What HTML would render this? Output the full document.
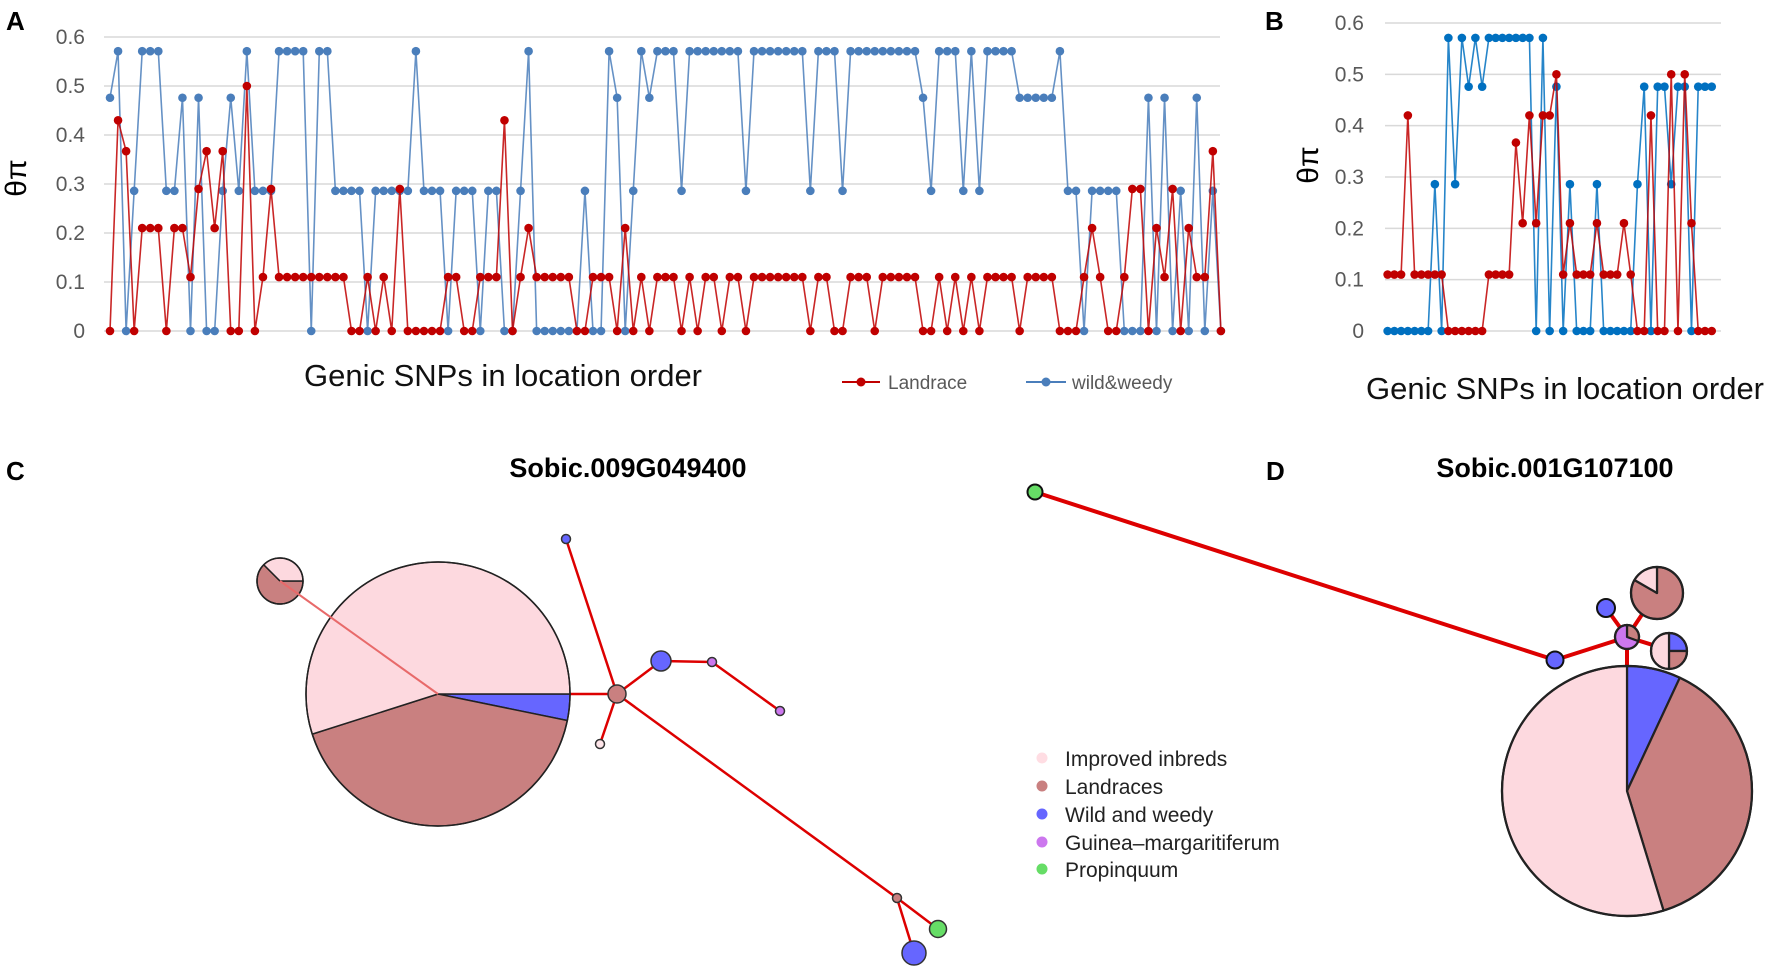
<!DOCTYPE html>
<html><head><meta charset="utf-8"><style>
html,body{margin:0;padding:0;background:#fff}
svg{display:block}
text{font-family:"Liberation Sans",sans-serif}
</style></head><body>
<svg id="s" width="1772" height="976" xmlns="http://www.w3.org/2000/svg">
<rect width="1772" height="976" fill="#fff"/>
<g id="A"></g><g id="B"></g>
<text x="6" y="30" font-size="26" font-weight="bold">A</text>
<text x="1265" y="30" font-size="26" font-weight="bold">B</text>
<text x="6" y="480" font-size="26" font-weight="bold">C</text>
<text x="1266" y="480" font-size="26" font-weight="bold">D</text>
<text x="26" y="178" font-size="30" text-anchor="middle" transform="rotate(-90 26 178)">θπ</text>
<text x="503" y="386" font-size="31" text-anchor="middle" fill="#111">Genic SNPs in location order</text>
<line x1="842" y1="382" x2="880" y2="382" stroke="#c00000" stroke-width="2"/><circle cx="861" cy="382" r="4.5" fill="#c00000"/>
<text x="888" y="389" font-size="19" fill="#595959">Landrace</text>
<line x1="1026" y1="382" x2="1066" y2="382" stroke="#4a7ebb" stroke-width="2"/><circle cx="1046" cy="382" r="4.5" fill="#4a7ebb"/>
<text x="1072" y="389" font-size="19" fill="#595959">wild&amp;weedy</text>
<text x="1318" y="165" font-size="30" text-anchor="middle" transform="rotate(-90 1318 165)">θπ</text>
<text x="1565" y="399" font-size="31" text-anchor="middle" fill="#111">Genic SNPs in location order</text>

<text x="628" y="477" font-size="27" font-weight="bold" text-anchor="middle">Sobic.009G049400</text>
<g stroke="#dd0000" stroke-width="2.5" fill="none">
<line x1="438" y1="694" x2="617" y2="694"/>
<line x1="617" y1="694" x2="566" y2="539"/>
<line x1="617" y1="694" x2="600" y2="744"/>
<line x1="617" y1="694" x2="661" y2="661"/>
<line x1="661" y1="661" x2="712" y2="662"/>
<line x1="712" y1="662" x2="780" y2="711"/>
<line x1="617" y1="694" x2="897" y2="898"/>
<line x1="897" y1="898" x2="938" y2="929"/>
<line x1="897" y1="898" x2="914" y2="953"/>
</g>
<g id="C"></g>
<line x1="280" y1="581" x2="438" y2="694" stroke="#e86a6a" stroke-width="2"/>
<g stroke="#333" stroke-width="1.5">
<circle cx="566" cy="539" r="4.5" fill="#6666ff"/>
<circle cx="600" cy="744" r="4.5" fill="#ffe6ea"/>
<circle cx="617" cy="694" r="9" fill="#c98080"/>
<circle cx="661" cy="661" r="10" fill="#6666ff"/>
<circle cx="712" cy="662" r="4.5" fill="#cc77ee"/>
<circle cx="780" cy="711" r="4.5" fill="#cc77ee"/>
<circle cx="897" cy="898" r="4.5" fill="#c98080"/>
<circle cx="938" cy="929" r="8.5" fill="#66dd66"/>
<circle cx="914" cy="953" r="12" fill="#6666ff"/>
</g>

<text x="1555" y="477" font-size="27" font-weight="bold" text-anchor="middle">Sobic.001G107100</text>
<g stroke="#dd0000" stroke-width="4" fill="none">
<line x1="1035" y1="492" x2="1555" y2="660"/>
<line x1="1555" y1="660" x2="1627" y2="637"/>
<line x1="1627" y1="637" x2="1606" y2="608"/>
<line x1="1627" y1="637" x2="1657" y2="592"/>
<line x1="1627" y1="637" x2="1669" y2="650"/>
<line x1="1627" y1="637" x2="1627" y2="667"/>
</g>
<g id="D"></g>
<g stroke="#111" stroke-width="2">
<circle cx="1035" cy="492" r="7.5" fill="#66dd66"/>
<circle cx="1555" cy="660" r="8.5" fill="#6666ff"/>
<circle cx="1606" cy="608" r="9" fill="#6666ff"/>
</g>
<g font-size="21" fill="#222">
<circle cx="1042" cy="758" r="5.5" fill="#ffdde3"/><text x="1065" y="766">Improved inbreds</text>
<circle cx="1042" cy="786" r="5.5" fill="#c98080"/><text x="1065" y="794">Landraces</text>
<circle cx="1042" cy="814" r="5.5" fill="#6666ff"/><text x="1065" y="822">Wild and weedy</text>
<circle cx="1042" cy="842" r="5.5" fill="#cc77ee"/><text x="1065" y="850">Guinea–margaritiferum</text>
<circle cx="1042" cy="869" r="5.5" fill="#66dd66"/><text x="1065" y="877">Propinquum</text>
</g>
</svg>
<script>
const NS="http://www.w3.org/2000/svg";
function el(p,t,a){const e=document.createElementNS(NS,t);for(const k in a)e.setAttribute(k,a[k]);p.appendChild(e);return e;}
function fill(list,x0,step,n){const out=[];for(let i=0;i<n;i++){const x=x0+step*i;let best=null,bd=1e9;for(const [px,v] of list){const d=Math.abs(px-x);if(d<bd){bd=d;best=v;}}out.push(bd<=step*0.55?best:0);}return out;}
function chart(g,o){
 for(let k=0;k<=6;k++){const y=o.y0-(o.y0-o.y6)*k/6;
  el(g,'line',{x1:o.gx1,x2:o.gx2,y1:y,y2:y,stroke:'#d9d9d9','stroke-width':1.5});
  const t=el(g,'text',{x:o.tx,y:y+7,'font-size':o.fs,fill:'#595959','text-anchor':'end'});t.textContent=k==0?'0':(k/10).toFixed(1);}
 for(const s of o.series){const vals=fill(s.pts,o.x0,o.step,o.n);
  const pts=vals.map((v,i)=>[o.x0+o.step*i,o.y0-(o.y0-o.y6)*v/0.6]);
  el(g,'polyline',{points:pts.map(p=>p.join(',')).join(' '),fill:'none',stroke:s.c,'stroke-width':1.6,'stroke-opacity':0.85});
  for(const p of pts)el(g,'circle',{cx:p[0],cy:p[1],r:4.3,fill:s.c});}
}
function R(a,b,step,v){const r=[];for(let x=a;x<=b+0.1;x+=step)r.push([x,v]);return r;}
const S=8.05;
const blueA=[[110,.476],[119,.571],[126,0],[134,.286],[142,.571],[151,.571],[160,.571],[166,.286],[175,.286],[184,.476],[191,0],[200,.476],[209,0],[216,0],[224,.286],[232,.476],[240,.286],[248,.571],[256,.286],[264,.286],[272,.286],[281,.571],[289,.571],[297,.571],[305,.571],[314,0],[321,.571],[330,.571],[338,.286],[346,.286],[354,.286],[362,.286],[369,0],[379,.286],[387,.286],[394,.286],[402,.286],[411,.286],[420,.571],[427,.286],[435,.286],[443,.286],[452,0],[460,.286],[468,.286],[477,0],[484,0],[492,.286],[500,.286],[508,0],[517,.286],[525,.571],[533,0],[541,0],[549,0],[557,0],[565,0],[573,0],[582,.286],[590,0],[598,0],[606,.571],[614,.476],[622,0],[630,.286],[637,.571],[646,.476],[654,.571],[662,.571],[671,.571],[678,.286],
 ...R(686,735,8.1,.571),[743,.286],...R(751,800,8.1,.571),[808,.286],[816,.571],[825,.571],[833,.571],[841,.286],...R(849,915,8.2,.571),[923,.476],[931,.286],[938,.571],[946,.571],[955,.571],[963,.286],[972,.571],[979,.286],...R(987,1012,8.2,.571),...R(1019,1053,8.3,.476),[1060,.571],[1068,.286],[1077,.286],[1085,0],[1092,.286],[1100,.286],[1108,.286],[1117,.286],[1125,0],[1133,0],[1141,0],[1149,.476],[1157,0],[1166,.476],[1174,0],[1182,.286],[1190,0],[1198,.476],[1207,0],[1215,.286]];
const redA=[[110,0],[119,.43],[126,.367],[134,0],[142,.21],[151,.21],[160,.21],[166,0],[175,.21],[184,.21],[191,.11],[200,.29],[209,.367],[216,.21],[224,.367],[232,0],[240,0],[248,.5],[256,0],[264,.11],[272,.29],...R(281,346,8.1,.11),[354,0],[362,0],[369,.11],[377,0],[387,.11],[394,0],[402,.29],[411,0],[420,0],[427,0],[435,0],[443,0],[452,.11],[460,.11],[468,0],[477,.11],[484,.11],[492,.11],[500,.11],[508,.43],[517,.11],[525,.21],...R(533,573,8.1,.11),[582,0],[590,.11],[598,.11],[606,.11],[614,0],[622,.21],[630,0],[637,.11],[646,0],[654,.11],[662,.11],[671,.11],[678,0],[687,.11],[695,0],[703,.11],[712,.11],[719,0],[727,.11],[735,.11],[743,0],...R(751,800,8.1,.11),[808,0],[816,.11],[825,.11],[833,0],[841,0],[849,.11],[857,.11],[866,.11],[874,0],...R(882,915,8.2,.11),[923,0],[931,0],[938,.11],[946,0],[954,.11],[963,0],[972,.11],[979,0],...R(987,1012,8.2,.11),[1019,0],...R(1028,1060,8.1,.11),[1068,0],[1077,0],[1085,.11],[1093,.21],[1100,.11],[1108,0],[1117,0],[1125,.11],[1133,.29],[1141,.29],[1149,0],[1158,.21],[1166,.11],[1174,.29],[1182,0],[1190,.21],[1198,.11],[1207,.11],[1215,.367]];
chart(document.getElementById('A'),{y0:331,y6:37,gx1:104,gx2:1220,tx:85,fs:21,x0:110,step:S,n:139,series:[{c:'#4a7ebb',pts:blueA},{c:'#c00000',pts:redA}]});
const bB=[...[435,455,478,498,518,538,560].map(z=>[z,0]),[575,.286],[598,0],[617,.571],[636,.286],[657,.571],[676,.476],[696,.571],[716,.476],...[735,755,775,795,815,835,855].map(z=>[z,.571]),[873,0],[895,.571],[913,0],[933,.476],[953,0],[973,.286],[993,0],[1013,0],[1033,0],[1050,.286],[1070,0],[1090,0],[1110,0],[1130,0],[1150,0],[1170,.286],[1190,.476],[1210,0],[1230,.476],[1250,.476],[1270,.286],[1290,.476],[1310,.476],[1330,0],[1350,.476],[1370,.476],[1390,.476]];
const rB=[[435,.11],[455,.11],[475,.11],[498,.42],[518,.11],[538,.11],[560,.11],[580,.11],[598,.11],[617,0],[636,0],[657,0],[676,0],[696,0],[716,0],[735,.11],[755,.11],[775,.11],[795,.11],[815,.367],[835,.21],[855,.42],[873,.21],[893,.42],[913,.42],[933,.5],[953,.11],[973,.21],[993,.11],[1013,.11],[1033,.11],[1050,.21],[1070,.11],[1090,.11],[1110,.11],[1130,.21],[1150,.11],[1170,0],[1190,0],[1210,.42],[1230,0],[1250,0],[1270,.5],[1290,0],[1310,.5],[1330,.21],[1350,0],[1370,0],[1390,0]];
const tz=z=>1240+z/2.947;
chart(document.getElementById('B'),{y0:331,y6:23,gx1:1385,gx2:1721,tx:1364,fs:21,x0:tz(435),step:19.9/2.947,n:49,series:[{c:'#0070c0',pts:bB.map(([z,v])=>[tz(z),v])},{c:'#c00000',pts:rB.map(([z,v])=>[tz(z),v])}]});
function pie(g,cx,cy,r,sl,sw){
 for(const [a,b,c] of sl){const a1=a*Math.PI/180,a2=b*Math.PI/180;const large=((b-a+360)%360)>180?1:0;
  const d=`M${cx},${cy} L${cx+r*Math.cos(a1)},${cy+r*Math.sin(a1)} A${r},${r} 0 ${large} 1 ${cx+r*Math.cos(a2)},${cy+r*Math.sin(a2)} Z`;
  el(g,'path',{d,fill:c,stroke:'#222','stroke-width':sw,'stroke-linejoin':'round'});}
 el(g,'circle',{cx,cy,r,fill:'none',stroke:'#222','stroke-width':sw});}
const P='#fdd9df',L='#c98080',W='#6666ff',G='#cc77ee';
const C=document.getElementById('C');
pie(C,438,694,132,[[0,11.6,W],[11.6,162.3,L],[162.3,360,P]],1.5);
pie(C,280,581,23,[[0,225,L],[225,360,P]],1.5);
const D=document.getElementById('D');
pie(D,1627,791,125,[[-90,-65,W],[-65,73,L],[73,270,P]],2.2);
pie(D,1657,593,26,[[-90,210,L],[210,270,P]],2.2);
pie(D,1669,651,18,[[-90,0,W],[0,90,L],[90,270,P]],2.2);
pie(D,1627,637,12,[[-90,20,L],[20,270,G]],2.2);
</script>
</body></html>
